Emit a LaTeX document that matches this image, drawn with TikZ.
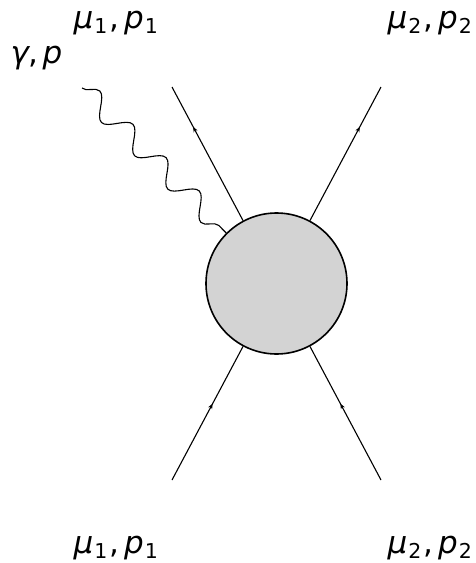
\documentclass[tikz,border=0pt]{standalone}
\usepackage{fontspec}
\setmainfont{DejaVu Sans}
\usetikzlibrary{decorations.pathmorphing,decorations.markings,arrows.meta}
\definecolor{blobgray}{RGB}{211,211,211}
\newcommand\lbl[2]{{\itshape #1}\kern1pt\raisebox{-5pt}{\fontsize{20.5}{20.5}\selectfont #2}\kern2pt}
\tikzset{
  fermion/.style={postaction={decorate},
    decoration={markings, mark=at position #1 with {\arrow{Stealth[length=5pt,width=4.5pt]}}}},
  photon/.style={decorate, decoration={snake, segment length=47pt, amplitude=10.5pt}},
  lab/.style={anchor=base west, inner sep=0pt, font=\fontsize{31}{31}\selectfont}
}
\begin{document}
\begin{tikzpicture}[x=1pt,y=-1pt,line width=1.1pt]
\useasboundingbox (0,0) rectangle (475,563);
\node[circle, draw, fill=blobgray, minimum size=141pt, inner sep=0pt, line width=1.6pt] (blob) at (276.5,283.5) {};
\coordinate (ul) at (172,87);
\coordinate (ur) at (381,87);
\coordinate (ll) at (172,480);
\coordinate (lr) at (381,480);
\coordinate (ph) at (82,88);
\draw[fermion=0.7] (blob) -- (ul);
\draw[fermion=0.7] (blob) -- (ur);
\draw[fermion=0.57] (ll) -- (blob);
\draw[fermion=0.57] (lr) -- (blob);
\draw[photon] (ph) -- (blob);
\node[lab] (tl) at (73,28) {\lbl{μ}{1},\kern5pt\lbl{p}{1}};
\node[lab] (tr) at (387,28) {\lbl{μ}{2},\kern5pt\lbl{p}{2}};
\node[lab] (g) at (10,63) {{\itshape γ},\kern4pt{\itshape p}};
\node[lab] (bl) at (73,553) {\lbl{μ}{1},\kern5pt\lbl{p}{1}};
\node[lab] (br) at (387,553) {\lbl{μ}{2},\kern5pt\lbl{p}{2}};
\end{tikzpicture}
\end{document}
